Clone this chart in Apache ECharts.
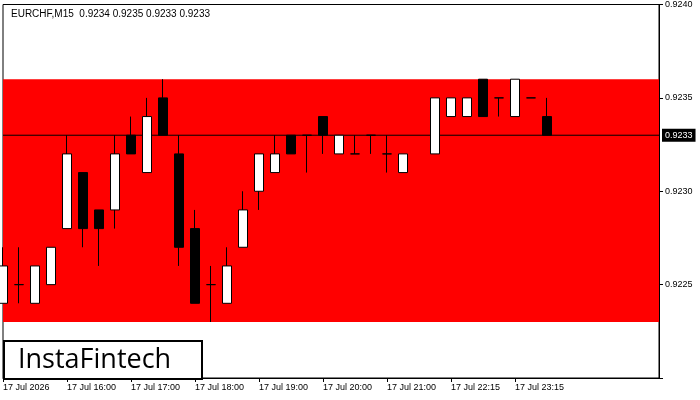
<!DOCTYPE html>
<html>
<head>
<meta charset="utf-8">
<script src="https://cdn.jsdelivr.net/npm/echarts@6/dist/echarts.min.js"></script>
<style>html,body{margin:0;padding:0;background:#fff}#main{width:700px;height:400px}</style>
</head>
<body>
<div id="main"></div>
<script>
// candle values, one per 15 min slot (null = no candle)
var opens  = [0.9224,0.9225,0.9224,0.9225,0.9228,0.9231,0.9229,0.9229,0.9233,0.9231,0.9235,0.9232,0.9228,0.9225,0.9224,0.9227,0.9230,0.9231,0.9233,0.9233,0.9234,0.9232,0.9232,0.9233,0.9232,0.9231,null,0.9232,0.9234,0.9234,0.9236,0.9235,0.9234,0.9235,0.9234];
var closes = [0.9226,0.9225,0.9226,0.9227,0.9232,0.9228,0.9228,0.9232,0.9232,0.9234,0.9233,0.9227,0.9224,0.9225,0.9226,0.9229,0.9232,0.9232,0.9232,0.9233,0.9233,0.9233,0.9232,0.9233,0.9232,0.9232,null,0.9235,0.9235,0.9235,0.9234,0.9235,0.9236,0.9235,0.9233];
var lows   = [0.9224,0.9224,0.9224,0.9225,0.9228,0.9227,0.9226,0.9228,0.9232,0.9231,0.9233,0.9226,0.9224,0.9223,0.9224,0.9227,0.9229,0.9231,0.9232,0.9231,0.9232,0.9232,0.9232,0.9232,0.9231,0.9231,null,0.9232,0.9234,0.9234,0.9234,0.9234,0.9234,0.9235,0.9233];
var highs  = [0.9227,0.9227,0.9226,0.9227,0.9233,0.9231,0.9229,0.9233,0.9234,0.9235,0.9236,0.9233,0.9229,0.9226,0.9227,0.9230,0.9232,0.9233,0.9233,0.9233,0.9234,0.9233,0.9233,0.9233,0.9233,0.9232,null,0.9235,0.9235,0.9235,0.9236,0.9235,0.9236,0.9235,0.9235];
var slotCount = 42;
var tickLabels = {0:'17 Jul 2026',4:'17 Jul 16:00',8:'17 Jul 17:00',12:'17 Jul 18:00',16:'17 Jul 19:00',20:'17 Jul 20:00',24:'17 Jul 21:00',28:'17 Jul 22:15',32:'17 Jul 23:15'};
var zoneLow = 0.9223, zoneHigh = 0.9236;
var lastPrice = 0.9233;

var cats = [], candles = [], priceLine = [];
for (var i = 0; i < slotCount; i++) {
    cats.push(tickLabels[i] || '');
    if (i < opens.length && opens[i] !== null) candles.push([opens[i], closes[i], lows[i], highs[i]]);
    else candles.push('-');
    priceLine.push(lastPrice);
}

var myChart = echarts.init(document.getElementById('main'));
var option = {
    animation: false,
    backgroundColor: '#fff',
    textStyle: {fontFamily: 'Arial, "Liberation Sans", sans-serif'},
    grid: {left: 3, right: 41, top: 3, bottom: 22, show: true, borderColor: '#000', borderWidth: 1},
    title: {text: 'EURCHF,M15  0.9234 0.9235 0.9233 0.9233', left: 6, top: 4,
        textStyle: {fontSize: 10, fontWeight: 'normal', color: '#000'}},
    xAxis: {
        type: 'category', data: cats, boundaryGap: false,
        axisLine: {lineStyle: {color: '#000'}},
        axisTick: {interval: function (i) { return !!tickLabels[i]; }, length: 4, lineStyle: {color: '#000'}},
        axisLabel: {interval: function (i) { return !!tickLabels[i]; }, align: 'left', fontSize: 9, color: '#000', margin: 5},
        splitLine: {show: false}
    },
    yAxis: {
        type: 'value', position: 'right', min: 0.9220, max: 0.9240, interval: 0.0005,
        axisLine: {show: true, lineStyle: {color: '#000'}},
        axisTick: {show: true, length: 4, lineStyle: {color: '#000'}},
        axisLabel: {fontSize: 9, color: '#000', margin: 6,
            formatter: function (v) { return v < 0.92205 ? '' : v.toFixed(4); }},
        splitLine: {show: false}
    },
    series: [{
        type: 'candlestick',
        data: candles,
        barWidth: 10,
        itemStyle: {color: '#fff', color0: '#000', borderColor: '#000', borderColor0: '#000', borderWidth: 1},
        markArea: {silent: true, itemStyle: {color: '#ff0000', opacity: 1},
            data: [[{yAxis: zoneLow}, {yAxis: zoneHigh}]]},
        z: 3
    }, {
        type: 'line',
        data: priceLine,
        symbol: 'none',
        lineStyle: {color: '#000', width: 1},
        z: 2,
        endLabel: {show: true, formatter: lastPrice.toFixed(4), backgroundColor: '#000', color: '#fff',
            fontSize: 9, padding: [2, 3], distance: 3}
    }],
    graphic: [{
        type: 'group', left: 3, top: 340,
        children: [
            {type: 'rect', shape: {x: 0, y: 0, width: 198, height: 38}, style: {fill: '#fff', stroke: '#000', lineWidth: 2}},
            {type: 'text', x: 14, y: 6, style: {text: 'InstaFintech', fontSize: 27, fill: '#000', fontFamily: '"Open Sans", Arial, sans-serif'}}
        ]
    }]
};
myChart.setOption(option, true);
</script>
</body>
</html>
